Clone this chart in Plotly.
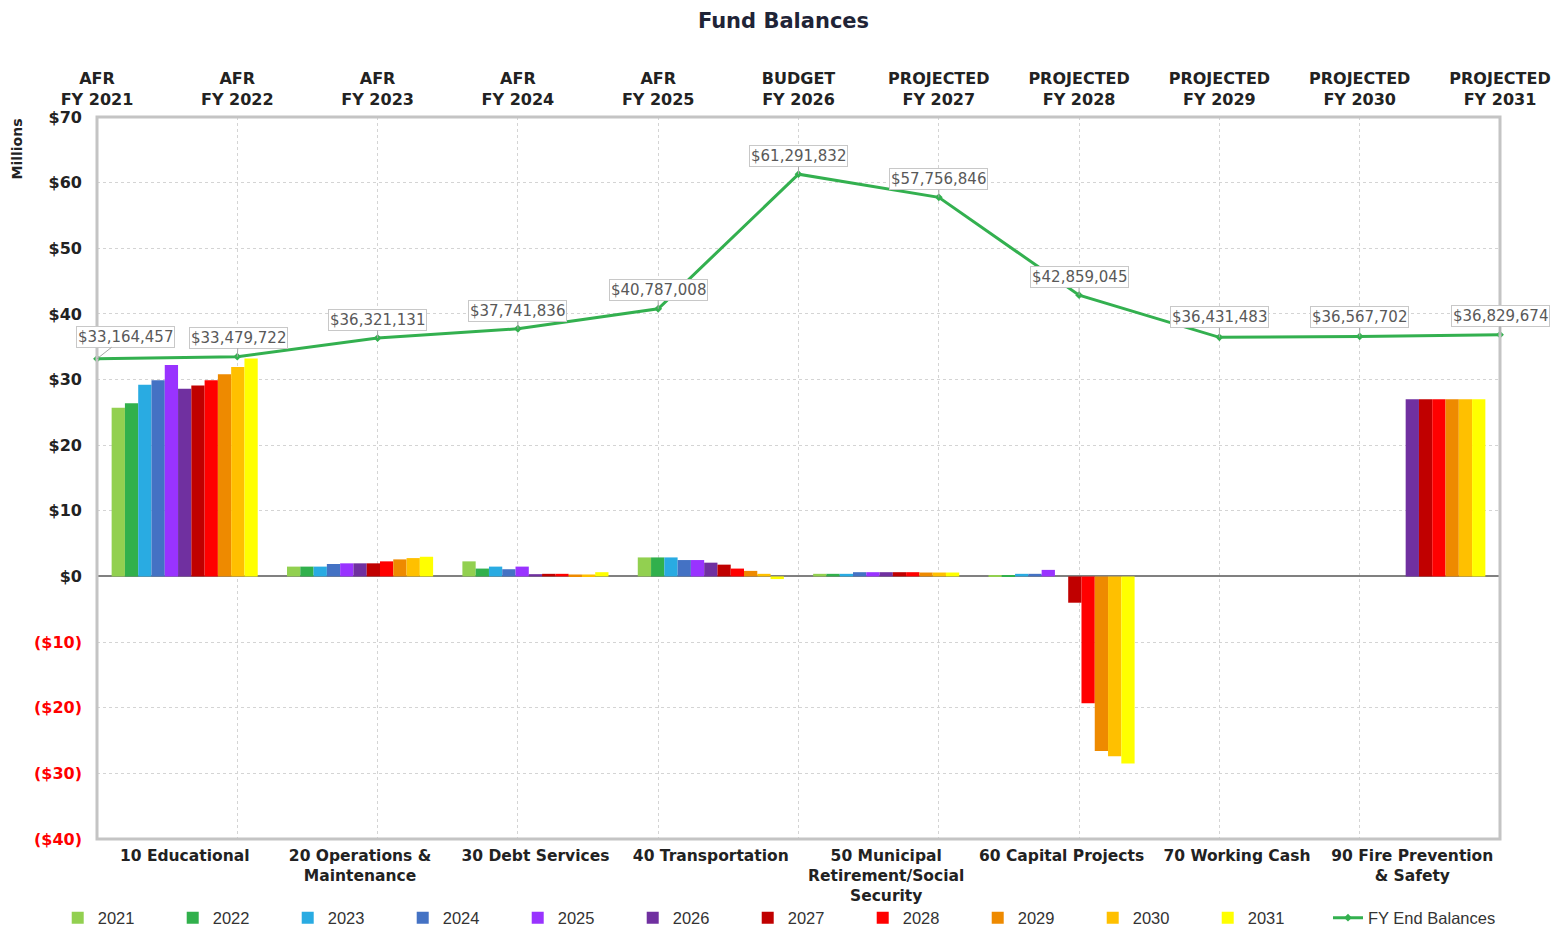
import plotly.graph_objects as go

years = ['2021', '2022', '2023', '2024', '2025', '2026', '2027', '2028', '2029', '2030', '2031']
funds = ['10 Educational', '20 Operations &<br>Maintenance', '30 Debt Services', '40 Transportation',
         '50 Municipal<br>Retirement/Social<br>Security', '60 Capital Projects', '70 Working Cash',
         '90 Fire Prevention<br>& Safety']

# Fund balances by year (millions), order follows `funds`
v2021 = [25.7, 1.5, 2.3, 2.9, 0.4, 0.1, 0, None]
v2022 = [26.4, 1.5, 1.2, 2.9, 0.4, 0.2, 0, None]
v2023 = [29.2, 1.5, 1.5, 2.9, 0.4, 0.4, 0, None]
v2024 = [29.9, 1.9, 1.1, 2.5, 0.65, 0.4, 0, None]
v2025 = [32.2, 2.0, 1.5, 2.5, 0.65, 1.0, 0, None]
v2026 = [28.6, 2.0, 0.35, 2.1, 0.65, 0.0, 0, 27.0]
v2027 = [29.1, 2.0, 0.4, 1.8, 0.65, -4.0, 0, 27.0]
v2028 = [29.9, 2.3, 0.4, 1.2, 0.65, -19.3, 0, 27.0]
v2029 = [30.8, 2.6, 0.3, 0.85, 0.6, -26.6, 0, 27.0]
v2030 = [31.9, 2.8, 0.3, 0.4, 0.6, -27.4, 0, 27.0]
v2031 = [33.2, 3.0, 0.65, -0.4, 0.6, -28.5, 0, 27.0]
year_values = [v2021, v2022, v2023, v2024, v2025, v2026, v2027, v2028, v2029, v2030, v2031]

fy_labels = ['AFR<br>FY 2021', 'AFR<br>FY 2022', 'AFR<br>FY 2023', 'AFR<br>FY 2024', 'AFR<br>FY 2025',
             'BUDGET<br>FY 2026', 'PROJECTED<br>FY 2027', 'PROJECTED<br>FY 2028', 'PROJECTED<br>FY 2029',
             'PROJECTED<br>FY 2030', 'PROJECTED<br>FY 2031']
fy_end_balances = [33164457, 33479722, 36321131, 37741836, 40787008, 61291832, 57756846,
                   42859045, 36431483, 36567702, 36829674]

y_ticks = [70, 60, 50, 40, 30, 20, 10, 0, -10, -20, -30, -40]

colors = ['#92d050', '#31b04c', '#29abe2', '#4472c4', '#9933ff', '#7030a0',
          '#c00000', '#ff0000', '#ee8a00', '#ffc000', '#ffff00']
line_color = '#33b04f'

label_offsets = [(28, -22), (1, -19), (0, -18), (0, -18), (0, -19), (0, -18),
                 (0, -18), (0, -18), (0, -20), (0, -19), (0, -19)]

fig = go.Figure()
for yr, vals, c in zip(years, year_values, colors):
    fig.add_trace(go.Bar(name=yr, x=funds, y=vals, marker=dict(color=c, line=dict(width=0)),
                         xaxis='x', yaxis='y', legend='legend'))

fy_m = [v / 1e6 for v in fy_end_balances]
fig.add_trace(go.Scatter(name='FY End Balances', x=list(range(len(fy_labels))), y=fy_m,
                         mode='lines+markers', xaxis='x2', yaxis='y', legend='legend2',
                         line=dict(color=line_color, width=3),
                         marker=dict(symbol='diamond', size=6, color=line_color),
                         cliponaxis=False))

annotations = []
for i, (v, off) in enumerate(zip(fy_end_balances, label_offsets)):
    annotations.append(dict(x=i, y=v / 1e6, xref='x2', yref='y',
                            text='${:,}'.format(v), showarrow=True, arrowhead=0,
                            arrowwidth=1, arrowcolor='#a6a6a6', ax=off[0], ay=off[1],
                            font=dict(family='DejaVu Sans', size=15, color='#595959'),
                            bgcolor='white', bordercolor='#c8c8c8', borderwidth=1, borderpad=1))
annotations.append(dict(text='<b>Millions</b>', xref='paper', yref='paper', x=-0.057, y=0.955,
                        xanchor='center', yanchor='middle', textangle=-90, showarrow=False,
                        font=dict(family='DejaVu Sans', size=14, color='#222222')))

def ytext(v):
    if v < 0:
        return "<span style='color:#ff0000'>(${})</span>".format(-v)
    return '${}'.format(v)

legend_font = dict(family='Liberation Sans', size=16.5, color='#333333')

fig.update_layout(
    width=1567, height=930,
    margin=dict(l=97, r=67, t=117, b=91, autoexpand=False),
    paper_bgcolor='white', plot_bgcolor='white',
    title=dict(text='<b>Fund Balances</b>', x=0.5, xanchor='center', y=0.978, yanchor='middle',
               font=dict(family='DejaVu Sans', size=21, color='#1f2437')),
    barmode='group', bargap=0.167, bargroupgap=0,
    font=dict(family='DejaVu Sans', color='#222222'),
    xaxis=dict(type='category', range=[-0.5, 7.5], showgrid=False, zeroline=False,
               showline=False, ticks='', tickfont=dict(family='DejaVu Sans', size=15.5, color='#222222'),
               tickprefix='<b>', ticksuffix='</b>', ticklabelstandoff=5),
    xaxis2=dict(overlaying='x', side='top', range=[0, 10], tickmode='array',
                tickvals=list(range(len(fy_labels))),
                ticktext=['<b>' + t.replace('<br>', '</b><br><b>') + '</b>' for t in fy_labels],
                showgrid=True, gridcolor='#d4d4d4', griddash='dot', gridwidth=1,
                zeroline=False, showline=False, ticks='', ticklabelstandoff=8,
                tickfont=dict(family='DejaVu Sans', size=16, color='#222222')),
    yaxis=dict(range=[-40, 70], tickmode='array', tickvals=y_ticks,
               ticktext=['<b>' + ytext(v) + '</b>' for v in y_ticks],
               showgrid=True, gridcolor='#d4d4d4', griddash='dot', gridwidth=1,
               zeroline=True, zerolinecolor='#808080', zerolinewidth=1.5,
               showline=False, ticks='', ticklabelstandoff=14,
               tickfont=dict(family='DejaVu Sans', size=16, color='#222222')),
    legend=dict(orientation='h', x=-0.028, xanchor='left', y=-0.1094,
                yanchor='middle', entrywidth=70, entrywidthmode='pixels', traceorder='normal',
                font=legend_font, bgcolor='rgba(0,0,0,0)',
                itemclick=False, itemdoubleclick=False),
    legend2=dict(orientation='h', x=0.8774, xanchor='left', y=-0.1094,
                 yanchor='middle', font=legend_font, bgcolor='rgba(0,0,0,0)',
                 itemclick=False, itemdoubleclick=False),
    annotations=annotations,
    shapes=[dict(type='rect', xref='paper', yref='paper', x0=0, x1=1, y0=0, y1=1,
                 line=dict(color='#c4c4c4', width=3), layer='above')],
)

fig.write_html('out.html')
